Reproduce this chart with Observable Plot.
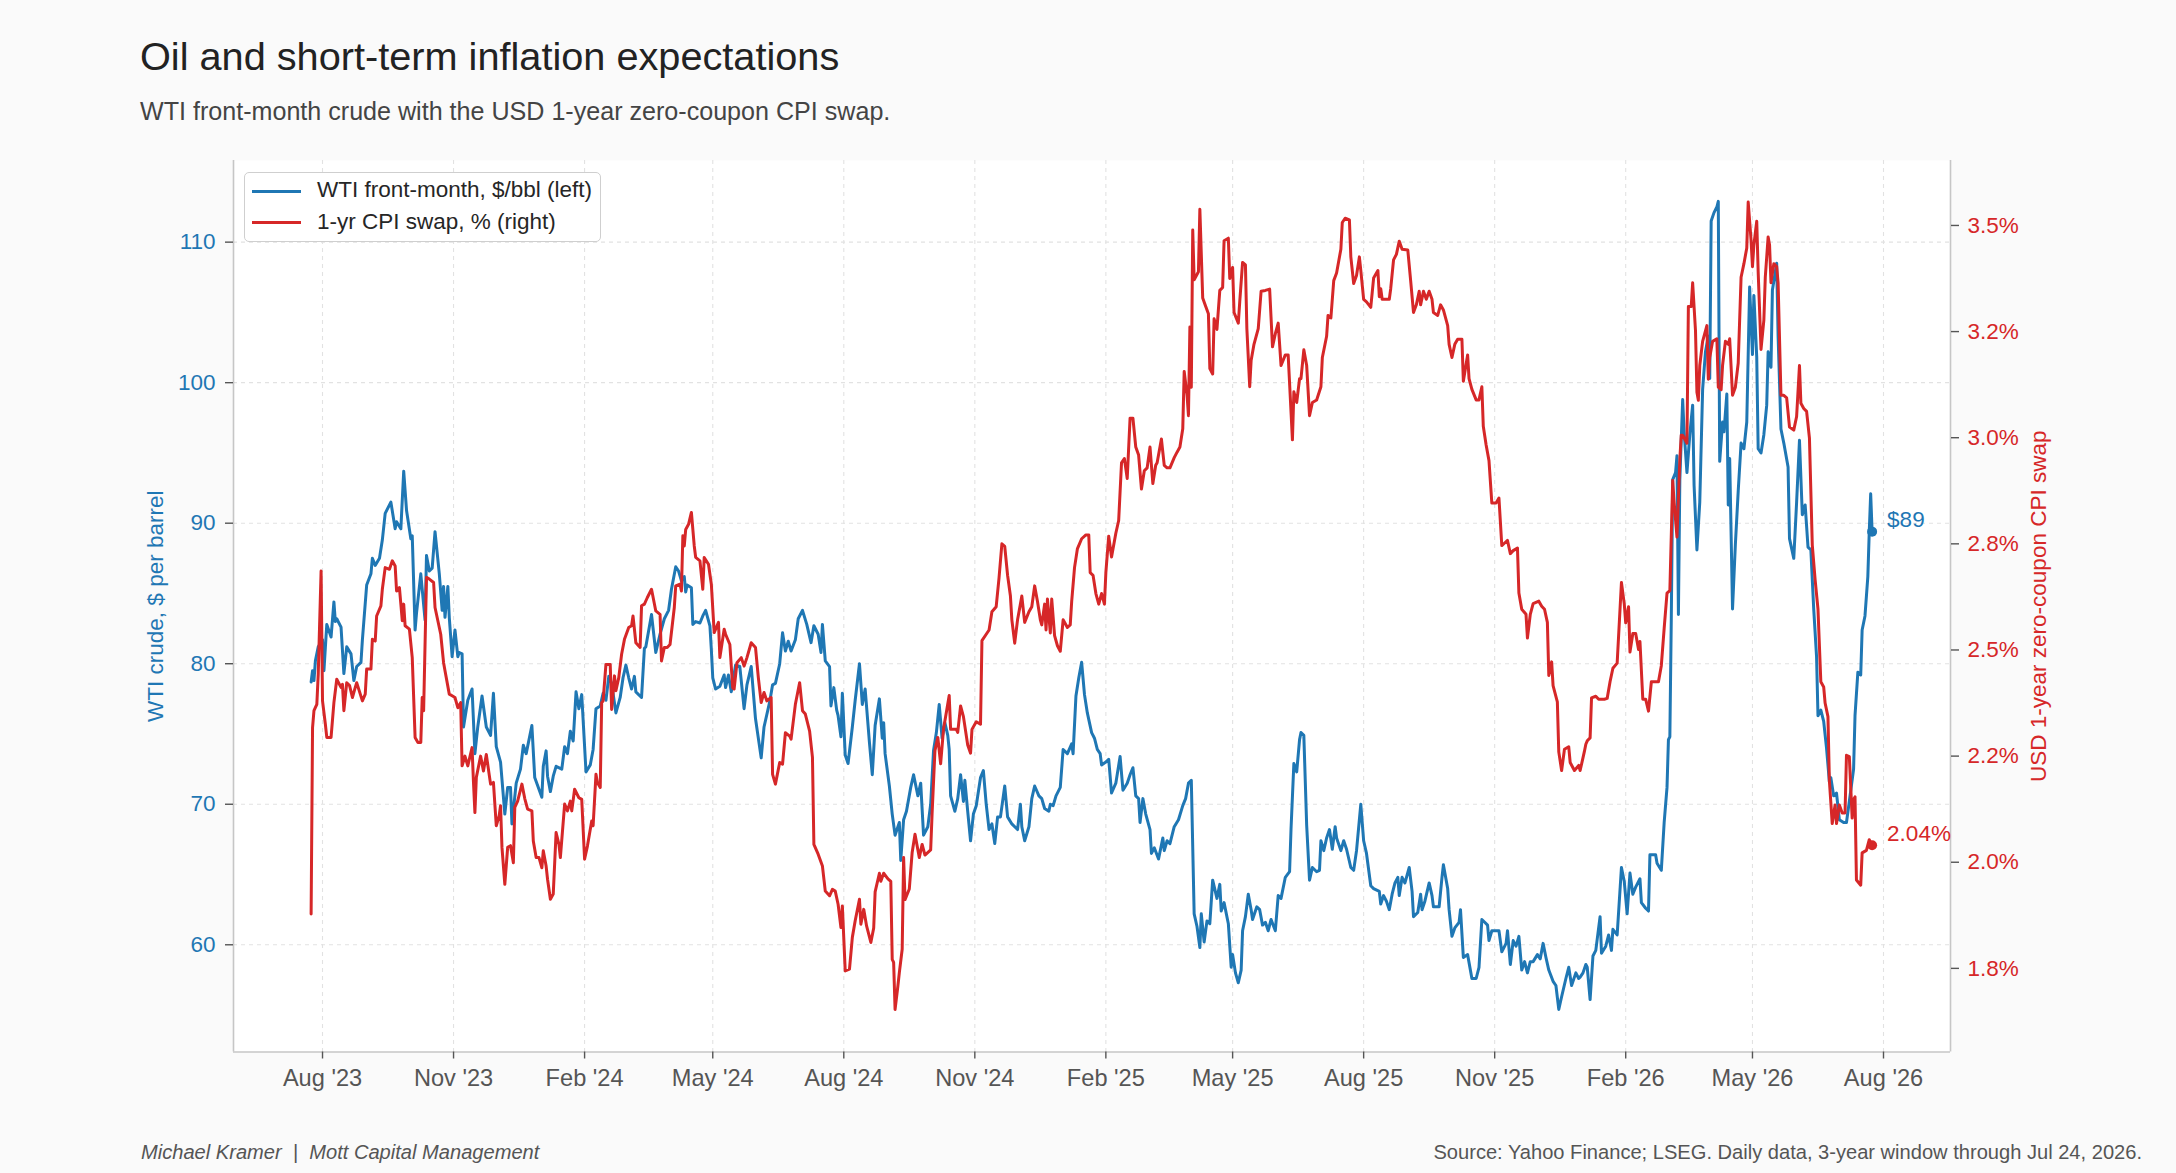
<!DOCTYPE html>
<html>
<head>
<meta charset="utf-8">
<script src="https://cdn.jsdelivr.net/npm/d3@7"></script>
<script src="https://cdn.jsdelivr.net/npm/@observablehq/plot@0.6"></script>
<style>
html, body { margin: 0; padding: 0; background: #fafafa; overflow: hidden; }
#wrap { position: relative; width: 2176px; height: 1173px; background: #fafafa; overflow: hidden;
  font-family: "Liberation Sans", Arial, Helvetica, sans-serif; }
.abs { position: absolute; line-height: 1; white-space: pre; }
#title { left: 140px; top: 36.5px; font-size: 39.7px; color: #222; }
#subtitle { left: 140px; top: 99.4px; font-size: 25.1px; color: #444; }
#capL { left: 141px; top: 1142.3px; font-size: 20.1px; color: #555; font-style: italic; }
#capR { right: 34px; top: 1142.3px; font-size: 20.1px; color: #555; }
.chart { position: absolute; left: 0; top: 130px; }
#legend { left: 244px; top: 172px; width: 355px; height: 68px; background: #fff; border: 1.4px solid #cfcfcf; border-radius: 5px; }
.sw { position: absolute; left: 7px; width: 49px; height: 3px; }
.lt { position: absolute; left: 72px; font-size: 22.5px; line-height: 1; color: #262626; white-space: pre; }
</style>
</head>
<body>
<div id="wrap">
  <div id="title" class="abs"></div>
  <div id="subtitle" class="abs"></div>
  <div id="c1" class="chart"></div>
  <div id="c2" class="chart"></div>
  <div id="legend" class="abs"></div>
  <div id="capL" class="abs"></div>
  <div id="capR" class="abs"></div>
</div>
<script>
// ---------- text ----------
const titleText = "Oil and short-term inflation expectations";
const subtitleText = "WTI front-month crude with the USD 1-year zero-coupon CPI swap.";
const captionLeft = "Michael Kramer  |  Mott Capital Management";
const captionRight = "Source: Yahoo Finance; LSEG. Daily data, 3-year window through Jul 24, 2026.";
const seriesNames = ["WTI front-month, $/bbl (left)", "1-yr CPI swap, % (right)"];
const yLabelLeft = "WTI crude, $ per barrel";
const yLabelRight = "USD 1-year zero-coupon CPI swap";

// ---------- ticks ----------
const xTickDates = ["2023-08-01","2023-11-01","2024-02-01","2024-05-01","2024-08-01","2024-11-01","2025-02-01","2025-05-01","2025-08-01","2025-11-01","2026-02-01","2026-05-01","2026-08-01"];
const xTickLabels = ["Aug '23","Nov '23","Feb '24","May '24","Aug '24","Nov '24","Feb '25","May '25","Aug '25","Nov '25","Feb '26","May '26","Aug '26"];
const leftTicks = [60, 70, 80, 90, 100, 110];
const rightTicks = [1.75, 2.0, 2.25, 2.5, 2.75, 3.0, 3.25, 3.5];
const rightTickLabels = ["1.8%","2.0%","2.2%","2.5%","2.8%","3.0%","3.2%","3.5%"];

// ---------- WTI front-month ($/bbl) ----------
const wtiDates = [
"2023-07-24","2023-07-25","2023-07-26","2023-07-27","2023-07-29","2023-08-01","2023-08-02","2023-08-04","2023-08-07","2023-08-09",
"2023-08-10","2023-08-11","2023-08-14","2023-08-16","2023-08-18","2023-08-21","2023-08-23","2023-08-25","2023-08-28","2023-08-29",
"2023-09-01","2023-09-04","2023-09-05","2023-09-07","2023-09-10","2023-09-12","2023-09-14","2023-09-18","2023-09-21","2023-09-22",
"2023-09-25","2023-09-27","2023-09-29","2023-10-02","2023-10-03","2023-10-05","2023-10-06","2023-10-09","2023-10-12","2023-10-13",
"2023-10-15","2023-10-17","2023-10-19","2023-10-22","2023-10-24","2023-10-25","2023-10-26","2023-10-28","2023-10-29","2023-10-31",
"2023-11-02","2023-11-04","2023-11-05","2023-11-07","2023-11-08","2023-11-11","2023-11-14","2023-11-16","2023-11-18","2023-11-21",
"2023-11-24","2023-11-27","2023-11-29","2023-12-01","2023-12-04","2023-12-07","2023-12-09","2023-12-11","2023-12-12","2023-12-15",
"2023-12-18","2023-12-20","2023-12-22","2023-12-26","2023-12-28","2024-01-02","2024-01-03","2024-01-05","2024-01-06","2024-01-08",
"2024-01-10","2024-01-12","2024-01-16","2024-01-18","2024-01-20","2024-01-22","2024-01-24","2024-01-26","2024-01-28","2024-01-30",
"2024-02-02","2024-02-05","2024-02-07","2024-02-09","2024-02-12","2024-02-14","2024-02-16","2024-02-18","2024-02-20","2024-02-23",
"2024-02-26","2024-02-28","2024-03-01","2024-03-03","2024-03-05","2024-03-07","2024-03-08","2024-03-12","2024-03-14","2024-03-15",
"2024-03-19","2024-03-22","2024-03-25","2024-03-28","2024-03-31","2024-04-02","2024-04-05","2024-04-07","2024-04-09","2024-04-11",
"2024-04-12","2024-04-13","2024-04-16","2024-04-17","2024-04-19","2024-04-22","2024-04-24","2024-04-26","2024-04-29","2024-04-30",
"2024-05-01","2024-05-03","2024-05-06","2024-05-09","2024-05-10","2024-05-12","2024-05-14","2024-05-17","2024-05-20","2024-05-23",
"2024-05-25","2024-05-28","2024-05-31","2024-06-04","2024-06-06","2024-06-10","2024-06-12","2024-06-14","2024-06-17","2024-06-19",
"2024-06-21","2024-06-23","2024-06-25","2024-06-28","2024-06-30","2024-07-03","2024-07-06","2024-07-09","2024-07-11","2024-07-14",
"2024-07-16","2024-07-17","2024-07-19","2024-07-22","2024-07-23","2024-07-25","2024-07-27","2024-07-28","2024-07-30","2024-07-31",
"2024-08-02","2024-08-04","2024-08-07","2024-08-09","2024-08-12","2024-08-14","2024-08-16","2024-08-19","2024-08-21","2024-08-23",
"2024-08-26","2024-08-28","2024-08-29","2024-08-30","2024-09-02","2024-09-04","2024-09-06","2024-09-09","2024-09-10","2024-09-12",
"2024-09-14","2024-09-17","2024-09-19","2024-09-22","2024-09-24","2024-09-26","2024-09-29","2024-10-01","2024-10-03","2024-10-05",
"2024-10-07","2024-10-09","2024-10-11","2024-10-13","2024-10-14","2024-10-15","2024-10-18","2024-10-20","2024-10-22","2024-10-24",
"2024-10-25","2024-10-27","2024-10-29","2024-10-31","2024-11-02","2024-11-05","2024-11-07","2024-11-09","2024-11-11","2024-11-13",
"2024-11-15","2024-11-17","2024-11-19","2024-11-22","2024-11-24","2024-11-27","2024-12-01","2024-12-03","2024-12-04","2024-12-06",
"2024-12-09","2024-12-11","2024-12-13","2024-12-16","2024-12-18","2024-12-20","2024-12-23","2024-12-24","2024-12-26","2024-12-28",
"2024-12-31","2025-01-02","2025-01-05","2025-01-08","2025-01-09","2025-01-11","2025-01-13","2025-01-15","2025-01-17","2025-01-19",
"2025-01-22","2025-01-24","2025-01-26","2025-01-28","2025-01-29","2025-02-01","2025-02-03","2025-02-05","2025-02-08","2025-02-11",
"2025-02-13","2025-02-16","2025-02-18","2025-02-20","2025-02-22","2025-02-24","2025-02-25","2025-02-27","2025-03-01","2025-03-04",
"2025-03-05","2025-03-07","2025-03-10","2025-03-13","2025-03-14","2025-03-16","2025-03-18","2025-03-21","2025-03-24","2025-03-27",
"2025-03-29","2025-03-31","2025-04-02","2025-04-04","2025-04-06","2025-04-08","2025-04-09","2025-04-11","2025-04-13","2025-04-15",
"2025-04-17","2025-04-20","2025-04-22","2025-04-23","2025-04-25","2025-04-28","2025-04-30","2025-05-01","2025-05-03","2025-05-05",
"2025-05-07","2025-05-08","2025-05-10","2025-05-12","2025-05-14","2025-05-15","2025-05-18","2025-05-20","2025-05-22","2025-05-24",
"2025-05-26","2025-05-28","2025-05-31","2025-06-02","2025-06-04","2025-06-07","2025-06-10","2025-06-11","2025-06-13","2025-06-15",
"2025-06-17","2025-06-18","2025-06-20","2025-06-22","2025-06-24","2025-06-26","2025-06-29","2025-07-01","2025-07-02","2025-07-04",
"2025-07-06","2025-07-08","2025-07-10","2025-07-12","2025-07-13","2025-07-16","2025-07-18","2025-07-20","2025-07-23","2025-07-25",
"2025-07-27","2025-07-30","2025-08-01","2025-08-03","2025-08-06","2025-08-08","2025-08-12","2025-08-13","2025-08-15","2025-08-17",
"2025-08-19","2025-08-21","2025-08-23","2025-08-25","2025-08-26","2025-08-28","2025-08-30","2025-09-02","2025-09-04","2025-09-05",
"2025-09-08","2025-09-10","2025-09-11","2025-09-13","2025-09-16","2025-09-18","2025-09-19","2025-09-23","2025-09-25","2025-09-26",
"2025-09-29","2025-09-30","2025-10-02","2025-10-04","2025-10-07","2025-10-08","2025-10-10","2025-10-13","2025-10-16","2025-10-19",
"2025-10-21","2025-10-23","2025-10-25","2025-10-27","2025-10-28","2025-10-30","2025-11-02","2025-11-04","2025-11-06","2025-11-09",
"2025-11-10","2025-11-12","2025-11-14","2025-11-16","2025-11-18","2025-11-20","2025-11-22","2025-11-24","2025-11-26","2025-11-28",
"2025-12-01","2025-12-03","2025-12-05","2025-12-07","2025-12-09","2025-12-12","2025-12-14","2025-12-16","2025-12-18","2025-12-21",
"2025-12-23","2025-12-25","2025-12-28","2025-12-30","2025-12-31","2026-01-02","2026-01-04","2026-01-05","2026-01-07","2026-01-09",
"2026-01-11","2026-01-14","2026-01-15","2026-01-18","2026-01-20","2026-01-22","2026-01-23","2026-01-26","2026-01-29","2026-01-31",
"2026-02-02","2026-02-04","2026-02-06","2026-02-08","2026-02-11","2026-02-12","2026-02-15","2026-02-17","2026-02-18","2026-02-22",
"2026-02-23","2026-02-26","2026-02-28","2026-03-02","2026-03-03","2026-03-04","2026-03-05","2026-03-06","2026-03-08","2026-03-09",
"2026-03-10","2026-03-11","2026-03-13","2026-03-14","2026-03-16","2026-03-18","2026-03-20","2026-03-21","2026-03-23","2026-03-25",
"2026-03-27","2026-03-29","2026-03-31","2026-04-01","2026-04-02","2026-04-04","2026-04-06","2026-04-07","2026-04-08","2026-04-10",
"2026-04-11","2026-04-13","2026-04-14","2026-04-15","2026-04-17","2026-04-19","2026-04-21","2026-04-23","2026-04-25","2026-04-27",
"2026-04-29","2026-05-01","2026-05-02","2026-05-04","2026-05-05","2026-05-07","2026-05-09","2026-05-11","2026-05-12","2026-05-14",
"2026-05-15","2026-05-18","2026-05-19","2026-05-21","2026-05-23","2026-05-26","2026-05-27","2026-05-30","2026-06-01","2026-06-03",
"2026-06-05","2026-06-07","2026-06-09","2026-06-11","2026-06-13","2026-06-15","2026-06-16","2026-06-18","2026-06-20","2026-06-22",
"2026-06-24","2026-06-25","2026-06-27","2026-06-29","2026-07-01","2026-07-04","2026-07-06","2026-07-08","2026-07-11","2026-07-12",
"2026-07-14","2026-07-16","2026-07-17","2026-07-19","2026-07-21","2026-07-22","2026-07-23","2026-07-24"
];
const wtiValues = [
78.7,79.5,78.8,80.2,81.2,81.7,79.5,82.8,81.9,84.4,
83.0,83.2,82.6,79.3,81.2,80.7,78.8,79.8,80.1,81.7,
85.6,86.4,87.5,87.0,87.5,88.8,90.7,91.5,89.6,90.1,
89.6,93.7,90.9,88.9,89.1,82.4,83.6,86.4,83.1,87.7,
86.6,86.8,89.4,86.4,83.8,85.5,83.3,85.5,83.3,80.5,
82.4,80.5,80.8,80.7,75.5,77.4,78.2,73.6,75.5,77.7,
75.5,74.9,77.9,74.1,73.0,69.3,71.2,71.2,68.6,71.5,
72.5,74.2,73.6,75.6,71.9,70.5,72.7,73.8,72.0,70.9,
72.0,72.7,72.5,74.1,73.6,75.2,74.5,78.0,76.8,77.8,
72.3,72.8,73.9,76.8,77.0,77.9,77.4,79.1,78.6,76.5,
77.6,79.0,79.9,79.0,78.2,79.1,78.0,77.6,81.1,81.2,
83.5,80.8,82.1,83.2,83.8,85.3,86.9,86.6,85.9,86.2,
85.1,85.6,85.4,82.8,83.0,82.9,83.4,83.8,82.7,81.0,
79.0,78.2,78.4,79.2,78.3,79.2,78.0,79.9,79.8,76.8,
78.5,79.8,76.1,73.3,75.5,77.3,78.5,78.6,80.0,82.2,
80.9,81.6,80.9,81.7,83.2,83.8,82.8,81.5,82.7,82.1,
80.8,82.8,80.2,79.8,77.0,78.3,76.7,76.3,74.8,77.9,
73.5,72.9,75.5,77.4,80.0,77.1,78.2,74.4,72.1,75.6,
77.5,74.7,75.8,73.6,71.3,69.3,67.8,68.7,66.0,68.9,
69.5,71.2,72.1,70.6,71.5,67.8,68.4,70.0,73.8,75.1,
77.1,74.7,75.8,74.9,73.9,70.6,69.5,70.4,72.1,70.2,
71.7,69.5,67.4,69.3,69.9,71.9,72.4,70.0,68.2,68.6,
67.2,69.1,69.1,71.3,69.1,68.6,68.2,70.0,68.4,67.4,
68.4,70.4,71.3,70.6,70.4,69.7,69.5,70.0,69.9,70.6,
71.2,73.9,73.6,74.3,73.6,77.7,79.0,80.1,77.8,76.5,
75.1,74.7,73.9,73.6,72.8,73.0,73.2,70.8,71.5,73.4,
71.0,71.5,72.1,72.6,70.6,70.4,68.7,70.4,69.3,68.2,
66.5,66.9,66.1,67.6,66.7,67.4,67.2,68.4,68.9,69.9,
70.4,71.5,71.7,62.2,61.3,59.8,62.2,60.2,61.7,61.5,
64.6,63.3,64.3,62.4,63.0,61.5,58.4,59.3,58.0,57.3,
58.2,61.0,62.0,63.6,62.5,61.8,62.7,62.5,61.4,61.6,
61.0,61.8,61.0,63.5,63.3,64.8,65.2,68.2,72.9,72.3,
74.6,75.1,74.9,68.5,64.6,65.5,65.2,65.3,67.4,66.7,
67.6,68.2,66.8,68.4,67.6,66.7,67.4,66.8,65.5,65.3,
66.7,70.0,67.4,66.5,64.2,64.0,63.8,62.9,63.5,63.1,
62.5,63.6,64.4,64.8,63.5,64.8,64.4,65.5,63.8,62.0,
62.3,63.6,62.5,63.1,64.4,63.5,62.7,62.7,64.8,65.7,
64.0,62.5,60.6,61.2,61.6,62.5,59.1,59.3,57.6,57.6,
58.4,61.8,61.6,61.4,60.3,61.0,61.0,61.0,59.5,60.1,
61.0,58.6,60.3,59.9,60.6,58.2,58.8,58.0,58.8,58.8,
59.3,59.0,60.1,59.1,58.2,57.4,57.1,55.4,56.3,57.6,
58.4,57.1,58.0,57.6,57.7,58.0,58.6,58.4,56.1,59.2,
59.6,62.0,59.4,59.9,60.7,59.6,61.1,60.7,65.5,64.5,
62.2,65.1,63.6,64.1,64.7,63.0,62.6,62.4,66.4,66.4,
65.8,65.3,68.7,71.2,74.6,74.8,83.2,93.1,93.6,94.8,
83.5,93.1,98.8,96.5,93.6,96.3,98.4,92.7,88.1,91.5,
99.5,102.2,103.3,100.3,111.5,112.1,112.5,112.9,94.4,97.2,
96.5,99.2,91.3,94.6,83.9,88.5,92.3,95.7,95.3,97.2,
106.8,102.0,106.2,101.8,95.3,95.0,96.3,98.4,102.2,101.1,
106.6,108.5,103.3,96.7,95.7,94.0,88.9,87.5,91.5,95.9,
90.6,91.3,88.3,88.1,83.9,80.5,76.3,76.7,75.9,74.0,
71.6,71.9,70.6,70.8,68.9,68.7,68.7,70.2,72.5,76.3,
79.4,79.2,82.4,83.4,86.2,89.4,92.1,89.4
];

// ---------- USD 1-year zero-coupon CPI swap (%) ----------
const cpiDates = [
"2023-07-24","2023-07-25","2023-07-26","2023-07-28","2023-07-29","2023-07-31","2023-08-01","2023-08-03","2023-08-04","2023-08-07",
"2023-08-09","2023-08-11","2023-08-14","2023-08-15","2023-08-16","2023-08-18","2023-08-20","2023-08-22","2023-08-24","2023-08-25",
"2023-08-29","2023-08-31","2023-09-01","2023-09-04","2023-09-05","2023-09-07","2023-09-08","2023-09-11","2023-09-12","2023-09-14",
"2023-09-17","2023-09-19","2023-09-21","2023-09-22","2023-09-24","2023-09-26","2023-09-27","2023-09-28","2023-10-01","2023-10-03",
"2023-10-05","2023-10-07","2023-10-09","2023-10-10","2023-10-11","2023-10-13","2023-10-15","2023-10-18","2023-10-19","2023-10-23",
"2023-10-25","2023-10-26","2023-10-29","2023-10-31","2023-11-02","2023-11-04","2023-11-06","2023-11-07","2023-11-09","2023-11-11",
"2023-11-14","2023-11-15","2023-11-16","2023-11-17","2023-11-20","2023-11-22","2023-11-24","2023-11-26","2023-11-27","2023-11-29",
"2023-12-01","2023-12-03","2023-12-04","2023-12-05","2023-12-07","2023-12-09","2023-12-11","2023-12-13","2023-12-14","2023-12-16",
"2023-12-19","2023-12-21","2023-12-23","2023-12-26","2023-12-27","2023-12-29","2023-12-31","2024-01-02","2024-01-03","2024-01-05",
"2024-01-06","2024-01-08","2024-01-10","2024-01-12","2024-01-14","2024-01-15","2024-01-18","2024-01-20","2024-01-22","2024-01-23",
"2024-01-25","2024-01-28","2024-01-30","2024-02-01","2024-02-03","2024-02-06","2024-02-07","2024-02-09","2024-02-10","2024-02-12",
"2024-02-13","2024-02-14","2024-02-16","2024-02-19","2024-02-20","2024-02-22","2024-02-23","2024-02-25","2024-02-27","2024-02-29",
"2024-03-03","2024-03-05","2024-03-06","2024-03-08","2024-03-11","2024-03-12","2024-03-14","2024-03-16","2024-03-19","2024-03-22",
"2024-03-25","2024-03-26","2024-03-28","2024-03-30","2024-04-01","2024-04-04","2024-04-05","2024-04-08","2024-04-09","2024-04-10",
"2024-04-11","2024-04-12","2024-04-14","2024-04-16","2024-04-18","2024-04-19","2024-04-22","2024-04-24","2024-04-25","2024-04-28",
"2024-04-30","2024-05-02","2024-05-05","2024-05-06","2024-05-09","2024-05-10","2024-05-13","2024-05-15","2024-05-16","2024-05-18",
"2024-05-21","2024-05-23","2024-05-25","2024-05-28","2024-05-31","2024-06-02","2024-06-04","2024-06-06","2024-06-08","2024-06-11",
"2024-06-12","2024-06-14","2024-06-17","2024-06-19","2024-06-21","2024-06-24","2024-06-25","2024-06-28","2024-07-01","2024-07-03",
"2024-07-05","2024-07-08","2024-07-10","2024-07-11","2024-07-14","2024-07-17","2024-07-19","2024-07-22","2024-07-24","2024-07-26",
"2024-07-28","2024-07-30","2024-07-31","2024-08-02","2024-08-05","2024-08-07","2024-08-09","2024-08-12","2024-08-13","2024-08-15",
"2024-08-17","2024-08-20","2024-08-22","2024-08-23","2024-08-26","2024-08-27","2024-08-29","2024-09-01","2024-09-03","2024-09-04",
"2024-09-05","2024-09-06","2024-09-08","2024-09-09","2024-09-11","2024-09-12","2024-09-13","2024-09-16","2024-09-18","2024-09-20",
"2024-09-23","2024-09-25","2024-09-27","2024-10-01","2024-10-02","2024-10-04","2024-10-06","2024-10-08","2024-10-10","2024-10-14",
"2024-10-15","2024-10-19","2024-10-20","2024-10-22","2024-10-24","2024-10-27","2024-10-29","2024-10-30","2024-11-02","2024-11-05",
"2024-11-06","2024-11-09","2024-11-11","2024-11-13","2024-11-16","2024-11-18","2024-11-20","2024-11-22","2024-11-24","2024-11-26",
"2024-11-27","2024-11-29","2024-12-01","2024-12-03","2024-12-04","2024-12-06","2024-12-09","2024-12-11","2024-12-13","2024-12-15",
"2024-12-17","2024-12-18","2024-12-20","2024-12-21","2024-12-22","2024-12-24","2024-12-25","2024-12-27","2024-12-29","2024-12-31",
"2025-01-02","2025-01-05","2025-01-07","2025-01-08","2025-01-10","2025-01-12","2025-01-15","2025-01-18","2025-01-20","2025-01-21",
"2025-01-23","2025-01-25","2025-01-27","2025-01-29","2025-01-31","2025-02-01","2025-02-03","2025-02-05","2025-02-08","2025-02-10",
"2025-02-12","2025-02-14","2025-02-16","2025-02-18","2025-02-20","2025-02-22","2025-02-24","2025-02-26","2025-02-28","2025-03-02",
"2025-03-04","2025-03-06","2025-03-08","2025-03-09","2025-03-12","2025-03-14","2025-03-16","2025-03-18","2025-03-21","2025-03-23",
"2025-03-25","2025-03-27","2025-03-28","2025-03-30","2025-03-31","2025-04-01","2025-04-02","2025-04-03","2025-04-04","2025-04-07",
"2025-04-08","2025-04-10","2025-04-12","2025-04-14","2025-04-15","2025-04-17","2025-04-18","2025-04-20","2025-04-22","2025-04-24",
"2025-04-25","2025-04-28","2025-04-29","2025-05-01","2025-05-02","2025-05-05","2025-05-06","2025-05-08","2025-05-10","2025-05-11",
"2025-05-13","2025-05-14","2025-05-16","2025-05-19","2025-05-21","2025-05-24","2025-05-27","2025-05-29","2025-05-31","2025-06-02",
"2025-06-04","2025-06-07","2025-06-09","2025-06-12","2025-06-13","2025-06-15","2025-06-17","2025-06-18","2025-06-20","2025-06-22",
"2025-06-24","2025-06-26","2025-06-29","2025-07-02","2025-07-03","2025-07-06","2025-07-07","2025-07-09","2025-07-11","2025-07-13",
"2025-07-16","2025-07-17","2025-07-19","2025-07-22","2025-07-23","2025-07-25","2025-07-27","2025-07-29","2025-07-30","2025-08-01",
"2025-08-03","2025-08-06","2025-08-08","2025-08-11","2025-08-12","2025-08-13","2025-08-14","2025-08-19","2025-08-20","2025-08-22",
"2025-08-24","2025-08-26","2025-08-28","2025-09-01","2025-09-03","2025-09-05","2025-09-07","2025-09-09","2025-09-10","2025-09-12",
"2025-09-14","2025-09-16","2025-09-18","2025-09-19","2025-09-22","2025-09-24","2025-09-26","2025-09-29","2025-09-30","2025-10-02",
"2025-10-04","2025-10-06","2025-10-09","2025-10-10","2025-10-13","2025-10-14","2025-10-16","2025-10-19","2025-10-21","2025-10-23",
"2025-10-24","2025-10-26","2025-10-28","2025-10-30","2025-11-02","2025-11-04","2025-11-06","2025-11-08","2025-11-10","2025-11-12",
"2025-11-14","2025-11-17","2025-11-18","2025-11-20","2025-11-23","2025-11-24","2025-11-26","2025-11-28","2025-12-02","2025-12-04",
"2025-12-06","2025-12-08","2025-12-09","2025-12-11","2025-12-12","2025-12-15","2025-12-16","2025-12-18","2025-12-20","2025-12-23",
"2025-12-24","2025-12-27","2025-12-30","2025-12-31","2026-01-03","2026-01-04","2026-01-05","2026-01-07","2026-01-08","2026-01-11",
"2026-01-13","2026-01-17","2026-01-19","2026-01-21","2026-01-23","2026-01-26","2026-01-29","2026-01-31","2026-02-01","2026-02-03",
"2026-02-04","2026-02-06","2026-02-08","2026-02-10","2026-02-11","2026-02-13","2026-02-15","2026-02-17","2026-02-19","2026-02-22",
"2026-02-24","2026-02-26","2026-02-28","2026-03-02","2026-03-04","2026-03-06","2026-03-07","2026-03-09","2026-03-11","2026-03-12",
"2026-03-13","2026-03-16","2026-03-17","2026-03-19","2026-03-20","2026-03-22","2026-03-23","2026-03-24","2026-03-25","2026-03-27",
"2026-03-30","2026-03-31","2026-04-01","2026-04-03","2026-04-06","2026-04-07","2026-04-09","2026-04-10","2026-04-12","2026-04-14",
"2026-04-15","2026-04-17","2026-04-19","2026-04-21","2026-04-23","2026-04-25","2026-04-27","2026-04-28","2026-04-30","2026-05-01",
"2026-05-02","2026-05-04","2026-05-05","2026-05-07","2026-05-09","2026-05-10","2026-05-12","2026-05-13","2026-05-14","2026-05-16",
"2026-05-18","2026-05-19","2026-05-21","2026-05-23","2026-05-25","2026-05-27","2026-05-30","2026-06-01","2026-06-03","2026-06-04",
"2026-06-06","2026-06-08","2026-06-10","2026-06-12","2026-06-14","2026-06-16","2026-06-18","2026-06-20","2026-06-21","2026-06-23",
"2026-06-24","2026-06-26","2026-06-28","2026-06-29","2026-07-01","2026-07-03","2026-07-05","2026-07-06","2026-07-08","2026-07-10",
"2026-07-11","2026-07-12","2026-07-13","2026-07-16","2026-07-17","2026-07-20","2026-07-22","2026-07-24"
];
const cpiValues = [
1.878,2.317,2.357,2.372,2.443,2.686,2.380,2.325,2.294,2.294,
2.376,2.431,2.412,2.419,2.357,2.423,2.416,2.388,2.412,2.423,
2.380,2.396,2.455,2.455,2.525,2.521,2.580,2.604,2.643,2.694,
2.690,2.710,2.698,2.639,2.647,2.569,2.608,2.557,2.549,2.482,
2.294,2.282,2.282,2.388,2.357,2.671,2.667,2.659,2.600,2.537,
2.470,2.451,2.396,2.392,2.388,2.364,2.376,2.227,2.250,2.227,
2.270,2.188,2.117,2.200,2.250,2.215,2.254,2.207,2.184,2.188,
2.086,2.109,2.133,2.035,1.948,2.035,2.039,1.999,2.129,2.144,
2.184,2.150,2.125,2.121,2.050,2.011,2.011,1.987,2.027,1.991,
1.960,1.913,1.925,2.070,2.042,2.011,2.137,2.121,2.144,2.121,
2.172,2.152,2.148,2.007,2.038,2.097,2.086,2.207,2.188,2.176,
2.376,2.380,2.466,2.466,2.360,2.439,2.404,2.435,2.490,2.525,
2.553,2.557,2.580,2.517,2.506,2.604,2.608,2.623,2.643,2.592,
2.584,2.474,2.506,2.506,2.513,2.600,2.651,2.655,2.639,2.769,
2.745,2.784,2.796,2.824,2.745,2.718,2.710,2.643,2.718,2.702,
2.655,2.541,2.565,2.482,2.549,2.537,2.513,2.411,2.408,2.470,
2.482,2.462,2.482,2.517,2.506,2.435,2.376,2.400,2.380,2.388,
2.207,2.184,2.235,2.231,2.305,2.297,2.290,2.372,2.423,2.357,
2.349,2.309,2.247,2.042,2.019,1.991,1.932,1.921,1.936,1.932,
1.901,1.846,1.897,1.744,1.748,1.823,1.862,1.913,1.854,1.889,
1.850,1.811,1.845,1.930,1.974,1.955,1.974,1.961,1.955,1.771,
1.764,1.653,1.709,1.740,1.795,2.011,1.912,1.937,2.023,2.066,
2.011,2.042,2.017,2.029,2.115,2.263,2.294,2.232,2.313,2.393,
2.313,2.313,2.306,2.368,2.343,2.276,2.257,2.313,2.331,2.325,
2.522,2.537,2.547,2.590,2.602,2.670,2.750,2.744,2.676,2.627,
2.571,2.516,2.571,2.608,2.627,2.565,2.590,2.602,2.651,2.614,
2.571,2.559,2.608,2.547,2.620,2.540,2.620,2.534,2.510,2.497,
2.571,2.553,2.559,2.614,2.694,2.738,2.762,2.771,2.771,2.682,
2.676,2.633,2.608,2.633,2.608,2.682,2.768,2.719,2.775,2.805,
2.941,2.951,2.904,3.046,3.046,2.978,2.959,2.879,2.922,2.929,
2.978,2.892,2.935,2.941,2.997,2.935,2.929,2.929,2.953,2.966,
2.978,3.021,3.156,3.101,3.052,3.261,3.119,3.489,3.372,3.391,
3.538,3.329,3.310,3.292,3.163,3.150,3.280,3.255,3.347,3.354,
3.464,3.470,3.375,3.401,3.295,3.270,3.320,3.413,3.407,3.257,
3.120,3.182,3.220,3.257,3.345,3.347,3.350,3.214,3.245,3.270,
3.170,3.195,3.195,2.995,3.108,3.083,3.139,3.139,3.207,3.170,
3.052,3.083,3.089,3.120,3.189,3.239,3.288,3.282,3.370,3.388,
3.444,3.507,3.517,3.513,3.426,3.363,3.382,3.426,3.394,3.326,
3.320,3.307,3.376,3.394,3.332,3.351,3.326,3.326,3.351,3.419,
3.432,3.463,3.444,3.442,3.370,3.295,3.313,3.345,3.313,3.345,
3.326,3.345,3.326,3.295,3.288,3.313,3.301,3.264,3.220,3.189,
3.220,3.232,3.232,3.133,3.195,3.139,3.114,3.089,3.089,3.120,
3.027,2.983,2.946,2.846,2.846,2.858,2.746,2.752,2.758,2.727,
2.734,2.740,2.634,2.596,2.584,2.528,2.584,2.609,2.615,2.603,
2.596,2.565,2.440,2.472,2.416,2.378,2.260,2.216,2.266,2.272,
2.235,2.216,2.228,2.216,2.261,2.278,2.286,2.293,2.387,2.391,
2.384,2.384,2.386,2.425,2.457,2.469,2.659,2.608,2.564,2.602,
2.495,2.539,2.539,2.501,2.520,2.384,2.384,2.356,2.425,2.425,
2.425,2.463,2.551,2.634,2.640,2.899,2.848,2.766,2.949,3.006,
3.006,2.987,3.309,3.309,3.365,3.252,3.107,3.088,3.170,3.227,
3.264,3.138,3.189,3.227,3.233,3.119,3.113,3.170,3.227,3.220,
3.233,3.100,3.119,3.176,3.378,3.410,3.447,3.555,3.466,3.403,
3.454,3.510,3.391,3.208,3.277,3.378,3.473,3.454,3.365,3.410,
3.403,3.365,3.100,3.100,3.094,3.025,3.018,3.050,3.170,3.081,
3.069,3.062,2.999,2.747,2.665,2.596,2.425,2.413,2.375,2.343,
2.192,2.091,2.135,2.091,2.135,2.116,2.116,2.252,2.249,2.104,
2.148,2.154,1.958,1.946,2.022,2.028,2.053,2.040
];

// ---------- build ----------
const BLUE = "#1f77b4", RED = "#d62728";
const FONT = '"Liberation Sans", Arial, Helvetica, sans-serif';
const W = 2176, H = 980;
const M = {marginTop: 30, marginBottom: 58.5, marginLeft: 233, marginRight: 226};
const xDomain = [new Date("2023-05-30T12:00:00Z"), new Date("2026-09-17T01:00:00Z")];
const yLeftDomain = [52.37, 115.81];
const yRightDomain = [1.553, 3.653];

const wti = wtiDates.map((d, i) => ({date: new Date(d), value: wtiValues[i]}));
const cpi = cpiDates.map((d, i) => ({date: new Date(d), value: cpiValues[i]}));
const xTicks = xTickDates.map(d => new Date(d));
const fmtX = d => xTickLabels[xTicks.findIndex(t => +t === +d)];
const fmtR = d => rightTickLabels[rightTicks.indexOf(d)];
const lastWti = wti[wti.length - 1];
const lastCpi = cpi[cpi.length - 1];
const svgStyle = {background: "transparent", fontFamily: FONT, fontSize: "22.5px", overflow: "visible", maxWidth: "none"};

const p1 = Plot.plot({
  width: W, height: H, ...M,
  style: svgStyle,
  x: {type: "utc", domain: xDomain},
  y: {domain: yLeftDomain},
  marks: [
    Plot.frame({fill: "#ffffff", stroke: "none"}),
    Plot.gridY(leftTicks, {stroke: "#e2e2e2", strokeOpacity: 1, strokeWidth: 1.1, strokeDasharray: "4,4"}),
    Plot.gridX(xTicks, {stroke: "#e2e2e2", strokeOpacity: 1, strokeWidth: 1.1, strokeDasharray: "4,4"}),
    Plot.ruleX(xDomain, {stroke: "#c6c6c6", strokeWidth: 1.6}),
    Plot.ruleY([yLeftDomain[0]], {stroke: "#c6c6c6", strokeWidth: 1.6}),
    Plot.axisY(leftTicks, {anchor: "left", tickSize: 8, tickPadding: 10, fill: BLUE, stroke: "#555", strokeWidth: 1.4, label: null}),
    Plot.axisX(xTicks, {anchor: "bottom", tickSize: 7, tickPadding: 10, tickFormat: fmtX, fill: "#555", stroke: "#555", strokeWidth: 1.4, fontSize: 23.6, label: null}),
    Plot.text([yLabelLeft], {frameAnchor: "left", dx: -77.5, rotate: -90, textAnchor: "middle", fill: BLUE}),
    Plot.lineY(wti, {x: "date", y: "value", stroke: BLUE, strokeWidth: 3}),
    Plot.dot([lastWti], {x: "date", y: "value", r: 5, fill: BLUE, stroke: "none"}),
    Plot.text([lastWti], {x: "date", y: "value", text: d => "$" + Math.round(d.value), dx: 15, dy: -11.5, textAnchor: "start", fill: BLUE})
  ]
});

const p2 = Plot.plot({
  width: W, height: H, ...M,
  style: svgStyle,
  x: {type: "utc", domain: xDomain, axis: null},
  y: {domain: yRightDomain},
  marks: [
    Plot.axisY(rightTicks, {anchor: "right", tickSize: 8, tickPadding: 9, tickFormat: fmtR, fill: RED, stroke: "#555", strokeWidth: 1.4, label: null}),
    Plot.text([yLabelRight], {frameAnchor: "right", dx: 88, rotate: -90, textAnchor: "middle", fill: RED}),
    Plot.lineY(cpi, {x: "date", y: "value", stroke: RED, strokeWidth: 3}),
    Plot.dot([lastCpi], {x: "date", y: "value", r: 5, fill: RED, stroke: "none"}),
    Plot.text([lastCpi], {x: "date", y: "value", text: d => d.value.toFixed(2) + "%", dx: 15, dy: -11.5, textAnchor: "start", fill: RED})
  ]
});

document.getElementById("c1").appendChild(p1);
document.getElementById("c2").appendChild(p2);

document.getElementById("title").textContent = titleText;
document.getElementById("subtitle").textContent = subtitleText;
document.getElementById("capL").textContent = captionLeft;
document.getElementById("capR").textContent = captionRight;

const legend = document.getElementById("legend");
[BLUE, RED].forEach((c, i) => {
  const sw = document.createElement("div");
  sw.className = "sw";
  sw.style.background = c;
  sw.style.top = (16.5 + i * 31) + "px";
  legend.appendChild(sw);
  const t = document.createElement("div");
  t.className = "lt";
  t.style.top = (6.3 + i * 32) + "px";
  t.textContent = seriesNames[i];
  legend.appendChild(t);
});
</script>
</body>
</html>
